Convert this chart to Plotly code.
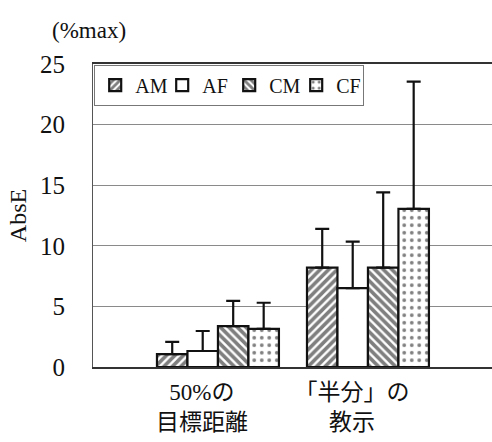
import plotly.graph_objects as go

categories = ["50%の<br>目標距離", "「半分」の<br>教示"]
series_names = ["AM", "AF", "CM", "CF"]
values = {
    "AM": [1.07, 8.2],
    "AF": [1.32, 6.5],
    "CM": [3.38, 8.2],
    "CF": [3.14, 13.05],
}
errors = {
    "AM": [1.0, 3.2],
    "AF": [1.65, 3.85],
    "CM": [2.07, 6.2],
    "CF": [2.16, 10.5],
}
patterns = {"AM": "/", "AF": "", "CM": "\\", "CF": "."}
pattern_size = {"AM": 6, "AF": 8, "CM": 6, "CF": 7.5}
pattern_solid = {"AM": 0.6, "AF": 0.3, "CM": 0.6, "CF": 0.2}
y_ticks = [0, 5, 10, 15, 20, 25]

FONT = "Liberation Serif, Times New Roman, Noto Sans CJK JP, serif"
INK = "#111111"

fig = go.Figure()
for name in series_names:
    fig.add_trace(go.Bar(
        name=name,
        x=categories,
        y=values[name],
        marker=dict(
            color="white",
            line=dict(color=INK, width=2.2),
            pattern=dict(shape=patterns[name], fgcolor="#000000", bgcolor="white",
                         size=pattern_size[name], solidity=pattern_solid[name]),
        ),
        error_y=dict(type="data", array=errors[name], arrayminus=[0, 0],
                     symmetric=False, color=INK, thickness=2.2, width=7),
    ))

fig.update_layout(
    width=492, height=442,
    margin=dict(l=93, r=0, t=64, b=75, autoexpand=False),
    paper_bgcolor="white", plot_bgcolor="white",
    barmode="group", bargap=0.187, bargroupgap=0,
    font=dict(family=FONT, size=24, color=INK),
    showlegend=True,
    legend=dict(
        orientation="h", x=0.003, y=0.998, xanchor="left", yanchor="top",
        bordercolor="#777777", borderwidth=1, bgcolor="white",
        font=dict(family=FONT, size=20, color=INK),
        entrywidth=22, entrywidthmode="pixels", itemwidth=30,
        tracegroupgap=0,
    ),
    xaxis=dict(
        type="category", range=[-0.833, 1.827], automargin=False,
        showline=True, linecolor="#333333", linewidth=1.5, mirror=True,
        ticks="", showgrid=False,
        tickfont=dict(family=FONT, size=23, color=INK),
        ticklabelshift=-16,
        ticklabelstandoff=4,
    ),
    yaxis=dict(
        range=[0, 25], tickvals=y_ticks, automargin=False,
        showline=True, linecolor="#555555", linewidth=1,
        showgrid=True, gridcolor="#8a8a8a", gridwidth=1,
        ticks="", ticklabelstandoff=22,
        tickfont=dict(family=FONT, size=25, color=INK),
        title=dict(text="AbsE", font=dict(family=FONT, size=24, color=INK), standoff=6),
        zeroline=False,
    ),
    annotations=[dict(
        text="(%max)", xref="paper", yref="paper", x=-0.011, y=1.112,
        xanchor="center", yanchor="middle", showarrow=False,
        font=dict(family=FONT, size=23, color=INK),
    )],
)

fig.write_html(
    "out.html",
    config={"displayModeBar": False},
    post_script="document.body.style.margin='0';document.body.style.overflow='hidden';",
)
